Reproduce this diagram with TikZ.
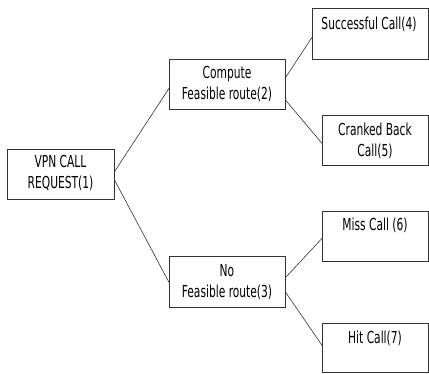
\documentclass[tikz,border=0pt]{standalone}
\usepackage{fontspec}
\setmainfont[FakeStretch=0.72]{DejaVu Sans Condensed}
\begin{document}
\begin{tikzpicture}[x=1pt,y=-1pt,
  box/.style={draw=black!80,line width=0.7pt,anchor=north west,inner sep=0pt},
  txt/.style={align=center,font=\fontsize{16.5}{21}\selectfont,inner sep=0pt},
  conn/.style={draw=black!80,line width=0.6pt}]
\useasboundingbox (0,0) rectangle (429,373);
\node[box,minimum width=107pt,minimum height=50pt] (b1) at (7,149) {};
\node[box,minimum width=116pt,minimum height=50pt] (b2) at (169,59) {};
\node[box,minimum width=116pt,minimum height=51pt] (b3) at (169,256) {};
\node[box,minimum width=116pt,minimum height=51pt] (b4) at (312,8) {};
\node[box,minimum width=106pt,minimum height=50pt] (b5) at (322,115) {};
\node[box,minimum width=106pt,minimum height=50pt] (b6) at (322,211) {};
\node[box,minimum width=106pt,minimum height=49pt] (b7) at (322,323) {};
\node[txt] (t1) at (60.5,173) {VPN CALL\\REQUEST(1)};
\node[txt] (t2) at (227,84) {Compute\\Feasible route(2)};
\node[txt] (t3) at (227,282) {No\\Feasible route(3)};
\node[txt] (t4) at (369,24) {Successful Call(4)};
\node[txt] (t5) at (375,141) {Cranked Back\\Call(5)};
\node[txt] (t6) at (375,225) {Miss Call (6)};
\node[txt] (t7) at (375,338) {Hit Call(7)};
\draw[conn] ([yshift=3pt]b1.east) -- ([yshift=-4pt]b2.west);
\draw[conn] ([yshift=-6pt]b1.east) -- ([yshift=-0.5pt]b3.west);
\draw[conn] ([yshift=7pt]b2.east) -- ([yshift=-3.5pt]b4.west);
\draw[conn] ([yshift=-16pt]b2.east) -- ([yshift=-3pt]b5.west);
\draw[conn] ([yshift=4.5pt]b3.east) -- ([yshift=-2pt]b6.west);
\draw[conn] ([yshift=-10.5pt]b3.east) -- ([yshift=2.5pt]b7.west);
\end{tikzpicture}
\end{document}
